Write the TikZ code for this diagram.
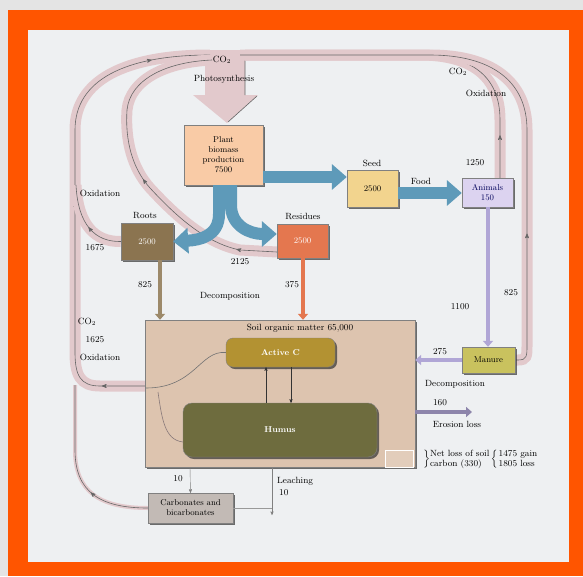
\documentclass[tikz,border=0pt]{standalone}
\usepackage{tikz}
\usetikzlibrary{arrows,arrows.meta,shadows,decorations.markings}

\definecolor{frame}{HTML}{FF5500}
\definecolor{outside}{HTML}{E4E4E4}
\definecolor{paperbg}{HTML}{EEF0F2}
\definecolor{bandpink}{HTML}{E2C9CC}
\definecolor{flowblue}{HTML}{5E9AB9}
\definecolor{plantfill}{HTML}{F9CBA6}
\definecolor{seedfill}{HTML}{F2D48E}
\definecolor{animalfill}{HTML}{DCD3F0}
\definecolor{rootfill}{HTML}{8B7450}
\definecolor{residuefill}{HTML}{E4774F}
\definecolor{soilfill}{HTML}{DDC4AF}
\definecolor{activefill}{HTML}{B39232}
\definecolor{humusfill}{HTML}{6E6C3E}
\definecolor{manurefill}{HTML}{C9C25E}
\definecolor{carbfill}{HTML}{C2BAB5}
\definecolor{lavline}{HTML}{B0A6D6}

\pgfdeclarelayer{paper}
\pgfdeclarelayer{flows}
\pgfsetlayers{paper,flows,main}

\begin{document}
\begin{tikzpicture}[x=1pt,y=-1pt,>=stealth',
    lbl/.style={font=\fontsize{9}{10}\selectfont,inner sep=0pt},
    pool/.style={draw=black!50,font=\fontsize{8.5}{10}\selectfont,align=center,inner sep=1pt,
        drop shadow={shadow xshift=2pt,shadow yshift=-2pt,opacity=.7,fill=black!80}},
    co2flow/.style={draw=black!60,line width=.6pt,preaction={draw=bandpink,line width=#1}},
    co2flow/.default=11pt,
    flowmark/.style={postaction={decorate,decoration={markings,
        mark=at position #1 with {\arrow[line width=.7pt]{stealth'}}}}},
    blueflow/.style={line width=12pt,draw=flowblue,-{Triangle[length=15pt,width=25pt]}},
    feed/.style={line width=4pt,-{Triangle[length=6pt,width=10pt]}}]

    \useasboundingbox (0,0) rectangle (583,576);
    \begin{pgfonlayer}{paper}
        \fill[outside] (0,0) rectangle (583,576);
        \fill[frame] (8,10) rectangle (583,576);
        \fill[paperbg] (28,30) rectangle (569,562);
    \end{pgfonlayer}

    % pools
    \node[pool,fill=plantfill,minimum width=79pt,minimum height=60pt] (plant) at (223.5,155) {Plant\\biomass\\production\\7500};
    \node[pool,fill=seedfill,minimum width=51pt,minimum height=37pt] (seed) at (372.5,188.5) {2500};
    \node[pool,fill=animalfill,minimum width=51pt,minimum height=29pt,text=blue!35!black] (animals) at (487.5,192.5) {Animals\\150};
    \node[pool,fill=rootfill,text=white,minimum width=52pt,minimum height=37pt] (roots) at (147,241.5) {2500};
    \node[pool,fill=residuefill,text=white,minimum width=51pt,minimum height=34pt] (residues) at (302.5,241) {2500};
    \node[pool,fill=soilfill,minimum width=270pt,minimum height=147pt] (soil) at (280,393.5) {};
    \node[pool,fill=activefill,text=white,rounded corners=7pt,minimum width=109pt,minimum height=29pt] (active) at (280.5,352.5) {\bfseries Active C};
    \node[pool,fill=humusfill,text=white,rounded corners=9pt,minimum width=194pt,minimum height=54pt] (humus) at (280,430) {\bfseries Humus};
    \node[draw=white,line width=1pt,fill=soilfill!85!white,minimum width=28pt,minimum height=17pt,inner sep=0pt] (corner) at (399,458.5) {};
    \node[pool,fill=manurefill,minimum width=53pt,minimum height=26pt] (manure) at (488.5,360) {Manure};
    \node[pool,fill=carbfill,minimum width=85pt,minimum height=30pt] (carb) at (190.5,508) {Carbonates and\\bicarbonates};

    % CO2 loops
    \begin{pgfonlayer}{flows}
        \fill[bandpink] (205,50) -- (245,50) -- (245,95) -- (258,95) -- (227,123) -- (193,95) -- (205,95) -- cycle;
        \draw[draw=black!60,line width=.6pt] (245,60) -- (245,95) (257,96) -- (228,122);
        \draw[co2flow,flowmark=.09,flowmark=.5,flowmark=.88] (146,386) -- (100,386) .. controls (80,386) and (75,375) .. (75,352) -- (75,130) .. controls (75,80) and (125,55) .. (210,55);
        \draw[co2flow,flowmark=.12,flowmark=.47] (277,252) -- (240,250) .. controls (205,243) and (175,215) .. (150,188) .. controls (132,168) and (125,140) .. (127,110) .. controls (130,80) and (165,62) .. (212,60);
        \draw[co2flow,flowmark=.45] (roots.west) .. controls (95,242) and (78,225) .. (76,185);
        \draw[co2flow,flowmark=.12,flowmark=.8] (500,178) -- (500,120) .. controls (500,75) and (470,55) .. (420,55) -- (240,55);
        \draw[co2flow,flowmark=.24] (manure.east) -- (518,360) .. controls (527,360) and (527,356) .. (527,345) -- (527,130) .. controls (527,80) and (490,55) .. (430,55) -- (245,55);
        \draw[co2flow=4pt,flowmark=.35] (carb.west) .. controls (100,508) and (75,492) .. (75,450) -- (75,385);
    \end{pgfonlayer}
    \draw[draw=black!55,line width=.6pt] (active.west) .. controls (200,350) and (195,388) .. (146,388);
    \draw[draw=bandpink!60!black,line width=.6pt] (183,442) .. controls (165,440) and (162,420) .. (158,392);

    % plant flows
    \draw[blueflow] (plant.east |- 0,177) -- (seed.west |- 0,177);
    \draw[blueflow] (seed.east |- 0,193) -- (animals.west |- 0,193);
    \draw[blueflow] (219,185) -- (219,214) .. controls (219,236) and (200,240) .. (roots.east);
    \draw[blueflow] (231,185) -- (231,205) .. controls (231,226) and (250,234) .. (residues.west |- 0,234);

    \draw[feed,draw=rootfill!85!white] (roots.south -| 160,0) -- (soil.north -| 160,0);
    \draw[feed,draw=residuefill] (residues.south -| 303,0) -- (soil.north -| 303,0);
    \draw[feed,draw=lavline] (animals.south -| 488,0) -- (manure.north -| 488,0);
    \draw[feed,draw=lavline] (manure.west) -- (soil.east |- manure.west);
    \draw[feed,draw=lavline!80!black] (soil.east |- 0,412) -- (472,412);

    \draw[->,black!80] (humus.north -| 266,0) -- (active.south -| 266,0);
    \draw[->,black!80] (active.south -| 291,0) -- (humus.north -| 291,0);
    \draw[->,black!50] (soil.south -| 190,0) -- (carb.north);
    \coordinate (leachend) at (272,515);
    \draw[->,black!50] (soil.south -| 272,0) -- (leachend);
    \draw[black!40] (carb.east) -- (leachend |- carb.east);

    % labels
    \node[lbl] (co2a) at (222,60) {CO$_2$};
    \node[lbl] (photo) at (224,79) {Photosynthesis};
    \node[lbl] (co2b) at (458,72) {CO$_2$};
    \node[lbl] (oxb) at (486,93) {Oxidation};
    \node[lbl] (n1250) at (475,163) {1250};
    \node[lbl] (seedlbl) at (372,163) {Seed};
    \node[lbl] (food) at (421,181) {Food};
    \node[lbl] (oxa) at (100,193) {Oxidation};
    \node[lbl] (n1675) at (95,248) {1675};
    \node[lbl] (rootlbl) at (145,216) {Roots};
    \node[lbl] (reslbl) at (303,216) {Residues};
    \node[lbl] (n2125) at (240,262) {2125};
    \node[lbl] (n825a) at (145,285) {825};
    \node[lbl] (decoa) at (230,296) {Decomposition};
    \node[lbl] (n375) at (292,285) {375};
    \node[lbl] (co2c) at (87,322) {CO$_2$};
    \node[lbl] (n1625) at (95,340) {1625};
    \node[lbl] (oxc) at (100,357) {Oxidation};
    \node[lbl] (n1100) at (460,307) {1100};
    \node[lbl] (n825b) at (511,293) {825};
    \node[lbl] (soiltitle) at (300,328) {Soil organic matter 65,000};
    \node[lbl] (n275) at (440,352) {275};
    \node[lbl] (decob) at (455,384) {Decomposition};
    \node[lbl] (n160) at (440,403) {160};
    \node[lbl] (erosion) at (457,424) {Erosion loss};
    \node[lbl] (n10a) at (178,479) {10};
    \node[lbl,anchor=west] (leach) at (277,481) {Leaching};
    \node[lbl,anchor=west] (n10b) at (279,493) {10};
    \node[lbl,anchor=west] (netloss) at (422,459) {$\left.\vrule height 9pt depth 3pt width 0pt\right\}$\begin{tabular}{@{}l@{}}Net loss of soil\\ carbon (330)\end{tabular}\,$\left\{\vrule height 9pt depth 3pt width 0pt\right.$\begin{tabular}{@{}l@{}}1475 gain\\ 1805 loss\end{tabular}};
\end{tikzpicture}
\end{document}
